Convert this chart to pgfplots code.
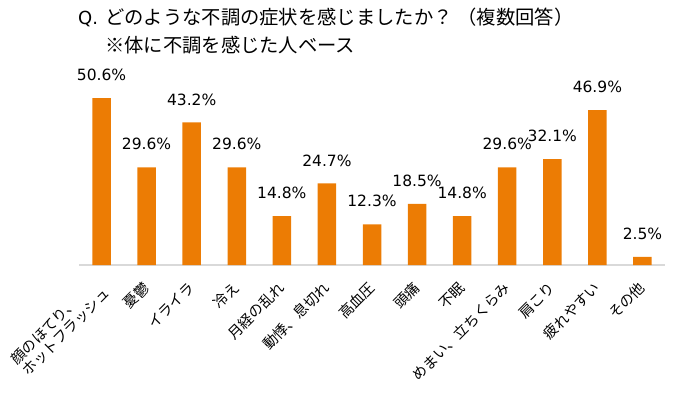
\documentclass[border=0pt]{standalone}
\usepackage{pgfplots}
\pgfplotsset{compat=1.18}
\usepackage{fontspec}
\setmainfont{Noto Sans CJK JP}
\newfontfamily\dejavu{DejaVu Sans}
\definecolor{barOrange}{RGB}{236,124,4}
\definecolor{lineGray}{RGB}{217,217,217}
\begin{document}
\begin{tikzpicture}
\path[use as bounding box] (0,0) rectangle (676bp,396bp);
\node[anchor=base west, inner sep=0pt, font=\dejavu\fontsize{18bp}{20bp}\selectfont] at (78bp,371bp) {Q.};
\node[anchor=base west, inner sep=0pt, font=\fontsize{19.3bp}{20bp}\selectfont] at (105bp,371bp) {どのような不調の症状を感じましたか？\hspace{5bp}（複数回答）};
\node[anchor=base west, inner sep=0pt, font=\fontsize{19.3bp}{20bp}\selectfont] at (105bp,343bp) {※体に不調を感じた人ベース};
\begin{axis}[
  at={(79bp,131bp)}, anchor=south west,
  scale only axis, width=586bp, height=181.5bp,
  xmin=-0.5, xmax=12.5, ymin=0, ymax=55,
  axis x line=bottom, axis y line=none,
  axis line style={-, draw=lineGray, line width=2.5bp},
  xtick={0,...,12}, major tick length=0pt,
  xticklabels={{顔のほてり、\\ホットフラッシュ},憂鬱,イライラ,冷え,月経の乱れ,{動悸、息切れ},高血圧,頭痛,不眠,{めまい、立ちくらみ},肩こり,疲れやすい,その他},
  xticklabel style={rotate=45, anchor=east, align=left, inner sep=0pt, font=\fontsize{14.5bp}{16bp}\selectfont},
  xticklabel shift=20bp,
  /pgf/number format/assume math mode=true,
  clip=false,
]
\addplot[ybar, bar shift=0pt, bar width=18.5bp, fill=barOrange, draw=none,
  nodes near coords={\pgfmathprintnumber[fixed,fixed zerofill,precision=1]{\pgfplotspointmeta}\%},
  every node near coord/.append style={anchor=south, inner sep=0pt, yshift=17bp, text=black, font=\dejavu\fontsize{15.5bp}{16bp}\selectfont}
] coordinates {
  (0,50.6) (1,29.6) (2,43.2) (3,29.6) (4,14.8) (5,24.7) (6,12.3)
  (7,18.5) (8,14.8) (9,29.6) (10,32.1) (11,46.9) (12,2.5)
};
\end{axis}
\end{tikzpicture}
\end{document}
